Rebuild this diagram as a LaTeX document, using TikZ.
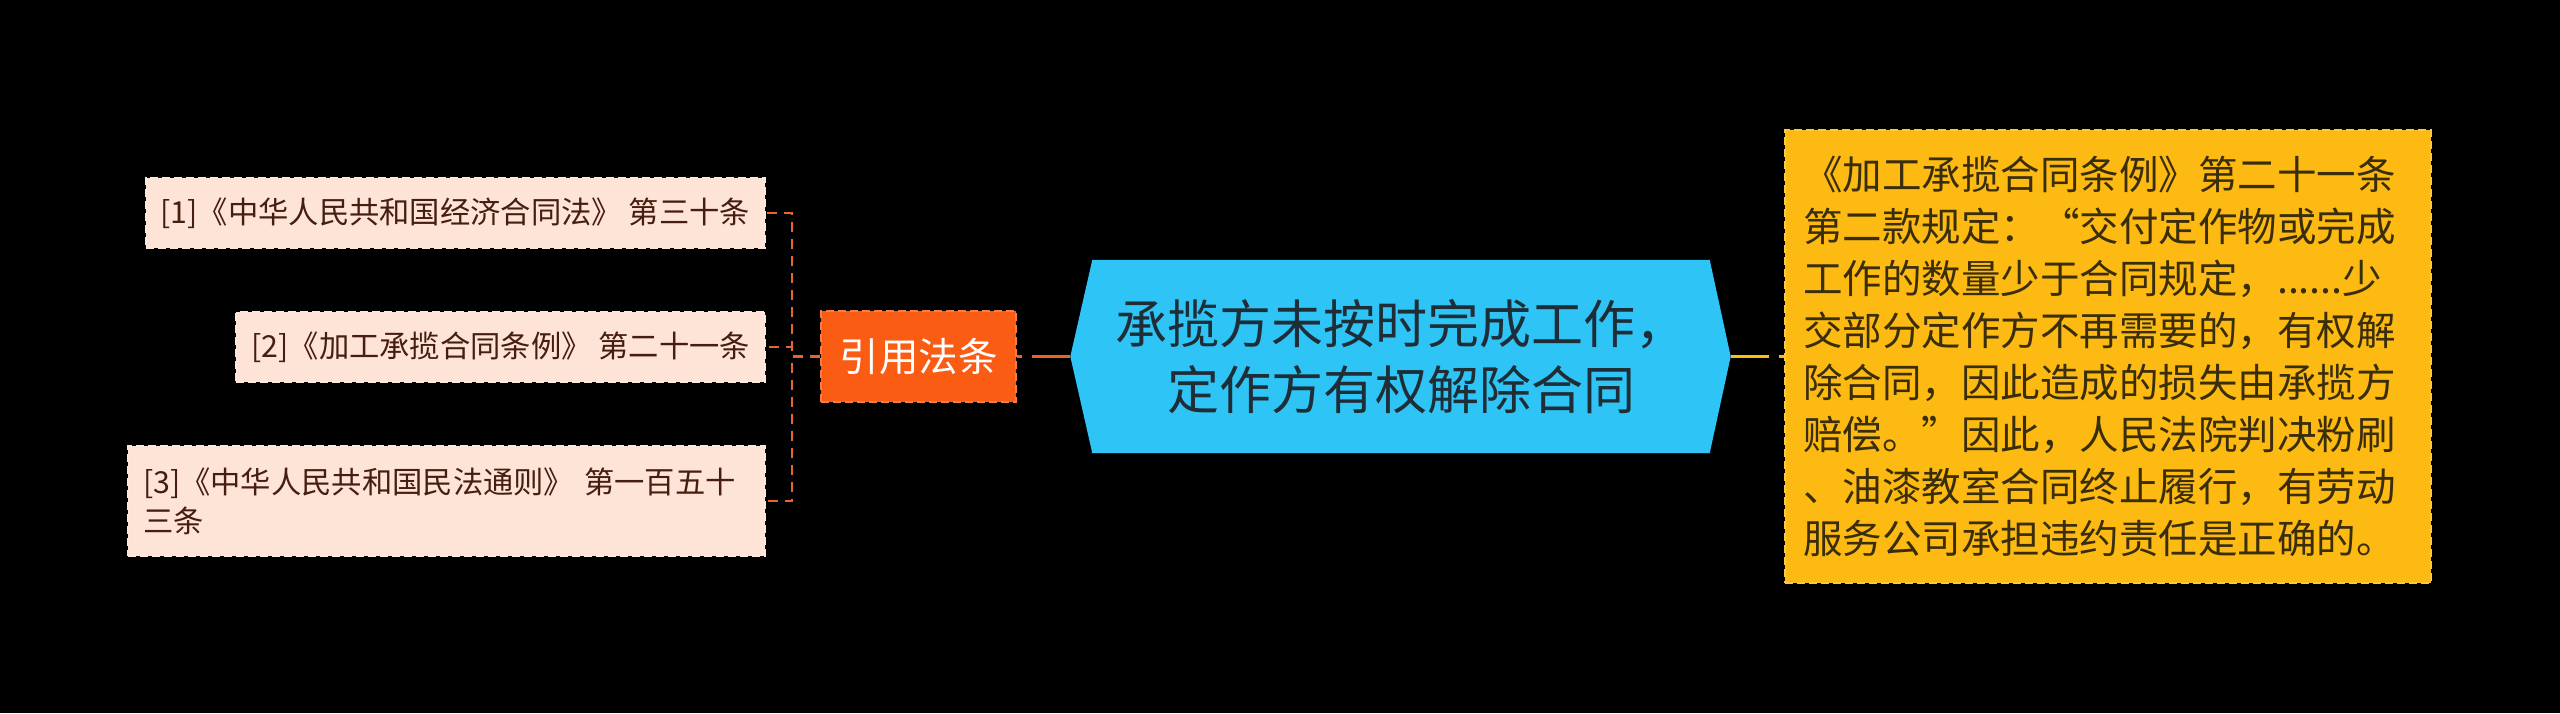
\documentclass[tikz,border=0pt]{standalone}
\usepackage{fontspec}
\setmainfont{Noto Sans CJK SC}
\usetikzlibrary{backgrounds}
\definecolor{lawfill}{RGB}{253,228,214}
\definecolor{lawtext}{RGB}{70,30,15}
\definecolor{citefill}{RGB}{250,92,20}
\definecolor{rootfill}{RGB}{46,196,245}
\definecolor{roottext}{RGB}{30,45,54}
\definecolor{notefill}{RGB}{252,186,18}
\definecolor{notetext}{RGB}{58,45,10}
\definecolor{linkorange}{RGB}{232,100,40}
\definecolor{linkyellow}{RGB}{250,190,20}
\tikzset{
  every node/.style={inner sep=0pt},
}
\tikzstyle{law}=[fill=lawfill,draw=lawfill!85!white,line width=2pt,dash pattern=on 8pt off 4pt,
  text=lawtext,font=\fontsize{30.3}{39}\selectfont,inner xsep=15pt,inner ysep=19pt,
  minimum height=70pt,anchor=east,align=left]
\tikzstyle{cite}=[fill=citefill,draw=citefill!80!white,line width=2pt,dash pattern=on 8pt off 4pt,
  text=white,font=\fontsize{39.5}{46}\selectfont,minimum width=195pt,minimum height=91pt]
\tikzstyle{root}=[text=roottext,font=\fontsize{52}{66}\selectfont,align=center,
  minimum width=617pt,minimum height=193pt]
\tikzstyle{note}=[fill=notefill,draw=notefill!80!white,line width=2pt,dash pattern=on 8pt off 4pt,
  text=notetext,font=\fontsize{39.5}{52}\selectfont,text width=610pt,inner xsep=18pt,
  minimum height=453pt,align=left]
\tikzstyle{mainlink}=[line width=3pt,dash pattern=on 38pt off 10pt]
\tikzstyle{sublink}=[linkorange,line width=2.5pt,dash pattern=on 10pt off 7pt]

\begin{document}
\begin{tikzpicture}[x=1pt,y=-1pt]
  \begin{pgfonlayer}{background}
    \fill[black] (0,0) rectangle (2560,713);
  \end{pgfonlayer}
  \useasboundingbox (0,0) rectangle (2560,713);

  \node[root] (root) at (1401,356.5) {承揽方未按时完成工作，\\定作方有权解除合同};
  \coordinate (rootL) at ([xshift=-22pt]root.west);
  \coordinate (rootR) at ([xshift=21pt]root.east);
  \begin{pgfonlayer}{background}
    \fill[rootfill] (root.north west) -- (root.north east) -- (rootR)
      -- (root.south east) -- (root.south west) -- (rootL) -- cycle;
  \end{pgfonlayer}

  \node[cite] (cite) at (918.5,356.5) {引用法条};
  \node[law] (law1) at (766,213) {[1]《中华人民共和国经济合同法》 第三十条};
  \node[law] (law2) at (766,347) {[2]《加工承揽合同条例》 第二十一条};
  \node[law,text width=607pt,minimum height=110pt] (law3) at (766,501)
    {[3]《中华人民共和国民法通则》 第一百五十\\三条};

  \node[note] (note) at (2108,356.5) {《加工承揽合同条例》第二十一条\\
    第二款规定：“交付定作物或完成\\
    工作的数量少于合同规定，......少\\
    交部分定作方不再需要的，有权解\\
    除合同，因此造成的损失由承揽方\\
    赔偿。”因此，人民法院判决粉刷\\
    、油漆教室合同终止履行，有劳动\\
    服务公司承担违约责任是正确的。};

  \draw[mainlink,linkorange] (rootL) -- (cite.east);
  \draw[mainlink,linkyellow] (rootR) -- (note.west);
  \foreach \n in {law1,law2,law3}
    \draw[sublink] (cite.west) -- ++(-28,0) |- (\n.east);
\end{tikzpicture}
\end{document}
